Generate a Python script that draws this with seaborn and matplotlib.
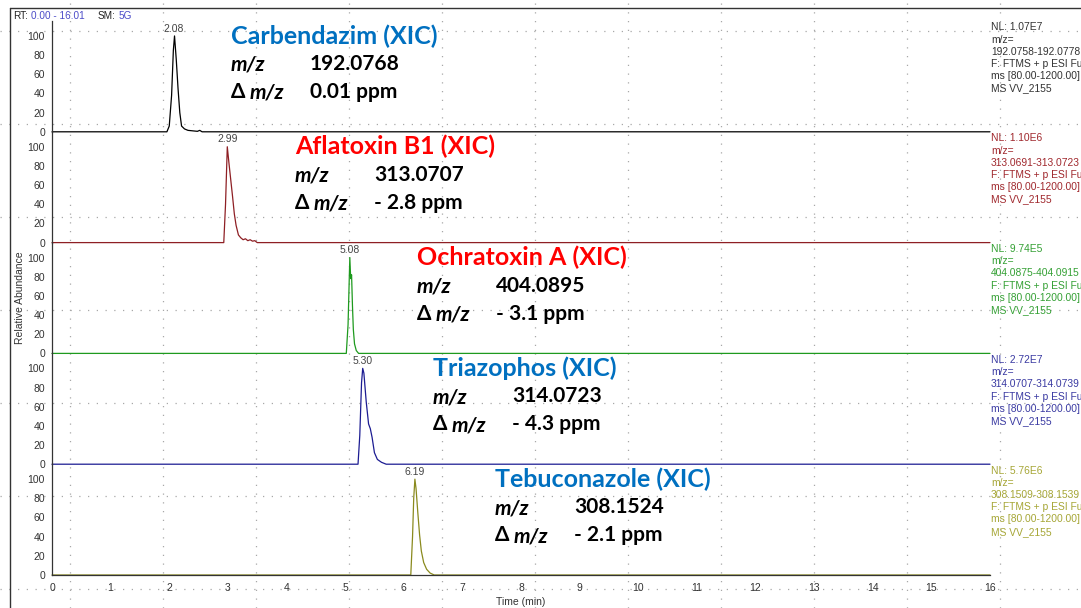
import numpy as np
import matplotlib
matplotlib.use("Agg")
import matplotlib.pyplot as plt
from matplotlib.lines import Line2D
from matplotlib.ticker import MultipleLocator
import seaborn as sns

# ---------------- data ----------------
compounds = ["Carbendazim (XIC)", "Aflatoxin B1 (XIC)", "Ochratoxin A (XIC)",
             "Triazophos (XIC)", "Tebuconazole (XIC)"]
mz_values = ["192.0768", "313.0707", "404.0895", "314.0723", "308.1524"]
ppm_values = ["0.01 ppm", "- 2.8 ppm", "- 3.1 ppm", "- 4.3 ppm", "- 2.1 ppm"]
peak_rt = [2.08, 2.99, 5.08, 5.30, 6.19]
nl_values = ["NL: 1.07E7", "NL: 1.10E6", "NL: 9.74E5", "NL: 2.72E7", "NL: 5.76E6"]
mz_ranges = ["192.0758-192.0778", "313.0691-313.0723", "404.0875-404.0915",
             "314.0707-314.0739", "308.1509-308.1539"]

carb_t = [0, 1.96, 2.00, 2.04, 2.07, 2.09, 2.12, 2.15, 2.18, 2.21, 2.26, 2.32, 2.40, 2.48, 2.52, 2.56, 16]
carb_i = [0, 0, 6, 38, 85, 100, 75, 45, 20, 6, 3, 1.5, 1, 0.5, 1.5, 0, 0]
afla_t = [0, 2.93, 2.96, 2.99, 3.02, 3.05, 3.08, 3.11, 3.14, 3.18, 3.22, 3.26, 3.30, 3.34, 3.38, 3.42, 3.46, 3.50, 16]
afla_i = [0, 0, 40, 100, 82, 65, 48, 30, 18, 8, 5, 3, 4, 2, 3, 1.5, 2, 0, 0]
ochr_t = [0, 5.02, 5.05, 5.08, 5.095, 5.11, 5.125, 5.14, 5.16, 5.19, 5.23, 16]
ochr_i = [0, 0, 30, 100, 78, 82, 50, 25, 10, 3, 0, 0]
tria_t = [0, 5.22, 5.25, 5.28, 5.30, 5.32, 5.36, 5.40, 5.43, 5.46, 5.50, 5.55, 5.62, 5.70, 16]
tria_i = [0, 0, 30, 85, 100, 95, 65, 42, 37, 28, 12, 5, 2, 0, 0]
tebu_t = [0, 6.12, 6.15, 6.17, 6.19, 6.21, 6.24, 6.27, 6.30, 6.34, 6.39, 6.45, 6.52, 16]
tebu_i = [0, 0, 40, 80, 100, 90, 65, 42, 25, 13, 6, 2, 0, 0]

traces_t = [carb_t, afla_t, ochr_t, tria_t, tebu_t]
traces_i = [carb_i, afla_i, ochr_i, tria_i, tebu_i]

x_ticks = list(range(0, 17))
y_ticks = [0, 20, 40, 60, 80, 100]

# ---------------- style ----------------
sns.set_style("white")
plt.rcParams['font.family'] = ['Liberation Sans', 'DejaVu Sans']

trace_colors = ["#000000", "#8E1F24", "#1E9A1E", "#1C1C92", "#8A8A1E"]
info_colors = ["#333333", "#A0282D", "#34A034", "#3A3AA2", "#A6A636"]
title_colors = ["#0070C0", "#FF0000", "#FF0000", "#0070C0", "#0070C0"]
text_x = [231, 295, 417, 433, 495]   # pixel x of annotation blocks
big_font = 'Lato'

W, H = 1081, 608
fig = plt.figure(figsize=(W / 100, H / 100), dpi=100)
fig.patch.set_facecolor('white')

def fx(px):
    return px / W

def fy(py):
    return 1 - py / H

# slide guide dots
for k in range(12):
    xg = 70 + 93 * k
    fig.add_artist(Line2D([fx(xg), fx(xg)], [0, 1], transform=fig.transFigure,
                          color='#A8A8A8', lw=0.9, linestyle=(0, (1, 6)), zorder=-5))
for k in range(7):
    yg = 31 + 93 * k
    fig.add_artist(Line2D([0, 1], [fy(yg), fy(yg)], transform=fig.transFigure,
                          color='#A8A8A8', lw=0.9, linestyle=(0, (1, 6)), zorder=-5))

# frame
fig.add_artist(Line2D([fx(10), 1], [fy(8), fy(8)], transform=fig.transFigure, color='#333333', lw=1.0))
fig.add_artist(Line2D([fx(10), fx(10)], [fy(8), 0], transform=fig.transFigure, color='#333333', lw=1.0))

x0, x1 = 52, 990
panel_h = 110.8
top0 = 21
ymax = 115.6

for i in range(5):
    top = top0 + panel_h * i
    bottom = top + panel_h
    ax = fig.add_axes([fx(x0), fy(bottom), (x1 - x0) / W, panel_h / H])
    ax.set_facecolor('none')
    sns.lineplot(x=traces_t[i], y=traces_i[i], ax=ax, color=trace_colors[i],
                 linewidth=0.9, estimator=None, sort=False)
    for ln in ax.lines:
        ln.set_clip_on(False)
    ax.set_xlim(0, 16)
    ax.set_ylim(0, ymax)
    for s in ['top', 'right']:
        ax.spines[s].set_visible(False)
    ax.spines['left'].set_color('#333333')
    ax.spines['left'].set_linewidth(0.9)
    ax.set_yticks(y_ticks)
    ax.yaxis.set_minor_locator(MultipleLocator(5))
    ax.tick_params(axis='y', which='major', direction='out', length=4, width=0.8,
                   labelsize=7.5, colors='#333333', pad=1)
    ax.tick_params(axis='y', which='minor', direction='out', length=2.5, width=0.6, colors='#333333')
    if i < 4:
        ax.spines['bottom'].set_visible(False)
        ax.set_xticks([])
    else:
        ax.spines['bottom'].set_color('#333333')
        ax.spines['bottom'].set_linewidth(0.9)
        ax.set_xticks(x_ticks)
        ax.xaxis.set_minor_locator(MultipleLocator(0.1))
        ax.tick_params(axis='x', which='major', direction='out', length=4, width=0.8,
                       labelsize=7.5, colors='#333333', pad=2)
        ax.tick_params(axis='x', which='minor', direction='out', length=2, width=0.5, colors='#333333')
    ax.set_xlabel('')
    ax.set_ylabel('')
    ax.grid(False)
    # peak label
    ax.text(peak_rt[i], 102.5, f"{peak_rt[i]:.2f}", ha='center', va='bottom',
            fontsize=7.5, color='#444444')

    # right-side info
    info = [nl_values[i], "m/z=", mz_ranges[i], "F: FTMS + p ESI Full", "ms [80.00-1200.00]", "MS VV_2155"]
    for j, line in enumerate(info):
        fig.text(fx(991), fy(top + 6.5 + 12.2 * j), line, fontsize=7.4, color=info_colors[i],
                 ha='left', va='center')

    # big annotation block
    tx = text_x[i]
    fig.text(fx(tx), fy(top + 15), compounds[i], fontsize=18, fontweight='bold',
             family=big_font, color=title_colors[i], ha='left', va='center')
    fig.text(fx(tx), fy(top + 44), "m/z", fontsize=15, fontweight='bold', style='italic',
             family=big_font, color='black', ha='left', va='center')
    fig.text(fx(tx + 79), fy(top + 43), mz_values[i], fontsize=15, fontweight='bold',
             family=big_font, color='black', ha='left', va='center')
    fig.text(fx(tx), fy(top + 71), "\u0394", fontsize=15, fontweight='bold',
             family=big_font, color='black', ha='left', va='center')
    fig.text(fx(tx + 19), fy(top + 72), "m/z", fontsize=15, fontweight='bold', style='italic',
             family=big_font, color='black', ha='left', va='center')
    fig.text(fx(tx + 79), fy(top + 71), ppm_values[i], fontsize=15, fontweight='bold',
             family=big_font, color='black', ha='left', va='center')

# header
hdr_y = fy(16)
fig.text(fx(13), hdr_y, "RT:", fontsize=7.2, color='#222222', va='center')
fig.text(fx(31), hdr_y, "0.00 - 16.01", fontsize=7.2, color='#4B4BC8', va='center')
fig.text(fx(98), hdr_y, "SM:", fontsize=7.2, color='#222222', va='center')
fig.text(fx(119), hdr_y, "5G", fontsize=7.2, color='#4B4BC8', va='center')

fig.text(fx(20), fy(298), "Relative Abundance", rotation=90, fontsize=7.5,
         color='#333333', ha='center', va='center')
fig.text(fx(521), fy(602), "Time (min)", fontsize=7.5, color='#333333', ha='center', va='center')

fig.savefig("out.png", dpi=100, facecolor='white')
